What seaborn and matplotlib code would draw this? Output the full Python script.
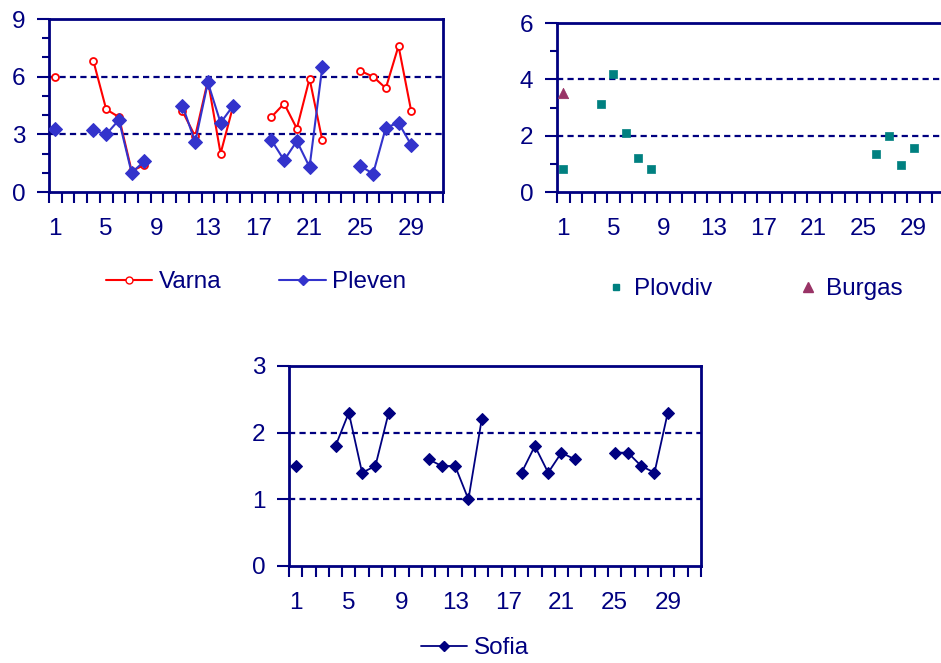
import numpy as np
import pandas as pd
import matplotlib
matplotlib.use("Agg")
import matplotlib.pyplot as plt
from matplotlib.lines import Line2D
import seaborn as sns

sns.set_style("white")
plt.rcParams['font.family'] = ['Liberation Sans', 'DejaVu Sans']

days = list(range(1, 32))
N = None
varna = [6.0, N, N, 6.8, 4.3, 3.9, 1.1, 1.4, N, N, 4.2, 2.9, 5.8, 2.0, 4.5, N, N, 3.9, 4.6, 3.3, 5.9, 2.7, N, N, 6.3, 6.0, 5.4, 7.6, 4.2, N, N]
pleven = [3.3, N, N, 3.2, 3.0, 3.75, 1.0, 1.6, N, N, 4.5, 2.6, 5.7, 3.6, 4.5, N, N, 2.7, 1.65, 2.65, 1.3, 6.5, N, N, 1.35, 0.95, 3.35, 3.6, 2.45, N, N]
plovdiv = [0.82, N, N, 3.14, 4.2, 2.1, 1.2, 0.82, N, N, N, N, N, N, N, N, N, N, N, N, N, N, N, N, N, 1.34, 1.99, 0.97, 1.57, N, N]
burgas = [3.5] + [N] * 30
sofia = [1.5, N, N, 1.8, 2.3, 1.4, 1.5, 2.3, N, N, 1.6, 1.5, 1.5, 1.0, 2.2, N, N, 1.4, 1.8, 1.4, 1.7, 1.6, N, N, 1.7, 1.7, 1.5, 1.4, 2.3, N, N]
xtick_labels = [1, 5, 9, 13, 17, 21, 25, 29]

NAVY = "#000080"
RED = "#FF0000"
BLUE = "#3333CC"
TEAL = "#008080"
MAROON = "#993366"
FS = 17.5


def seg_frame(vals):
    df = pd.DataFrame({"day": days, "val": pd.array(vals, dtype="Float64").astype(float)})
    df["seg"] = df["val"].isna().cumsum()
    return df.dropna()


fig = plt.figure(figsize=(9.41, 6.63), dpi=100)
W, H = 941, 663


def add_ax(l, r, t, b):
    return fig.add_axes([l / W, 1 - b / H, (r - l) / W, (b - t) / H])


def style(ax, ymax, major, minor, grid, right_spine=True):
    ax.set_xlim(0.5, 31.5)
    ax.set_ylim(0, ymax)
    ax.set_xticks(np.arange(0.5, 32, 1.0))
    ax.set_xticklabels([])
    ax.set_xticks(xtick_labels, minor=True)
    ax.set_xticklabels([str(v) for v in xtick_labels], minor=True)
    ax.tick_params(axis="x", which="major", direction="out", length=8, width=1.5, color=NAVY, bottom=True)
    ax.tick_params(axis="x", which="minor", length=0, pad=19, labelsize=FS, labelcolor=NAVY, bottom=True)
    ax.set_yticks(np.arange(0, ymax + 0.01, major))
    ax.set_yticklabels([str(int(v)) for v in np.arange(0, ymax + 0.01, major)])
    if minor:
        ax.set_yticks(np.arange(0, ymax + 0.01, minor), minor=True)
    ax.tick_params(axis="y", which="major", direction="out", length=9, width=1.5, color=NAVY,
                   labelsize=FS, labelcolor=NAVY, left=True, pad=8)
    ax.tick_params(axis="y", which="minor", direction="out", length=5, width=1.5, color=NAVY, left=True)
    for s in ax.spines.values():
        s.set_color(NAVY)
        s.set_linewidth(2)
        s.set_visible(True)
    if not right_spine:
        ax.spines["right"].set_visible(False)
    for g in grid:
        ax.axhline(g, color=NAVY, lw=1.6, ls=(0, (2.8, 1.9)), zorder=1)
    ax.set_xlabel("")
    ax.set_ylabel("")
    ax.grid(False)


# Top-left: Varna & Pleven
ax1 = add_ax(49, 443, 19, 192)
sns.lineplot(data=seg_frame(varna), x="day", y="val", units="seg", estimator=None, sort=False,
             color=RED, lw=1.5, marker="o", markersize=5, markerfacecolor="white",
             markeredgecolor=RED, markeredgewidth=1.3, ax=ax1, zorder=3)
sns.lineplot(data=seg_frame(pleven), x="day", y="val", units="seg", estimator=None, sort=False,
             color=BLUE, lw=1.5, marker="D", markersize=7, markerfacecolor=BLUE,
             markeredgecolor=BLUE, ax=ax1, zorder=4)
style(ax1, 9, 3, 1, [3, 6])
fig.legend(handles=[Line2D([], [], color=RED, lw=1.5, marker="o", markersize=5, markerfacecolor="white",
                           markeredgecolor=RED, label="Varna"),
                    Line2D([], [], color=BLUE, lw=1.5, marker="D", markersize=5, markerfacecolor=BLUE,
                           markeredgecolor=BLUE, label="Pleven")],
           loc="center", bbox_to_anchor=(256 / W, 1 - 282 / H), ncol=2, frameon=False,
           fontsize=FS, labelcolor=NAVY, handlelength=1.9, handletextpad=0.25, columnspacing=2.4)

# Top-right: Plovdiv & Burgas
ax2 = add_ax(557, 945, 23, 192)
dfp = pd.DataFrame({"day": days, "val": pd.array(plovdiv, dtype="Float64").astype(float)}).dropna()
dfb = pd.DataFrame({"day": days, "val": pd.array(burgas, dtype="Float64").astype(float)}).dropna()
sns.scatterplot(data=dfp, x="day", y="val", marker="s", s=40, color=TEAL, edgecolor=TEAL, ax=ax2, zorder=3)
sns.scatterplot(data=dfb, x="day", y="val", marker="^", s=55, color=MAROON, edgecolor=MAROON, ax=ax2, zorder=3)
style(ax2, 6, 2, 1, [2, 4], right_spine=False)
fig.legend(handles=[Line2D([], [], ls="none", marker="s", markersize=5, color=TEAL, label="Plovdiv"),
                    Line2D([], [], ls="none", marker="^", markersize=7, color=MAROON, label="Burgas")],
           loc="center", bbox_to_anchor=(755 / W, 1 - 289 / H), ncol=2, frameon=False,
           fontsize=FS, labelcolor=NAVY, handlelength=0.7, handletextpad=0.4, columnspacing=3.6)

# Bottom: Sofia
ax3 = add_ax(289, 701, 366, 566)
sns.lineplot(data=seg_frame(sofia), x="day", y="val", units="seg", estimator=None, sort=False,
             color=NAVY, lw=1.3, marker="D", markersize=6.5, markerfacecolor=NAVY,
             markeredgecolor=NAVY, ax=ax3, zorder=3)
style(ax3, 3, 1, None, [1, 2])
fig.legend(handles=[Line2D([], [], color=NAVY, lw=1.3, marker="D", markersize=5, markerfacecolor=NAVY,
                           markeredgecolor=NAVY, label="Sofia")],
           loc="center", bbox_to_anchor=(475 / W, 1 - 648 / H), frameon=False,
           fontsize=FS, labelcolor=NAVY, handlelength=1.9, handletextpad=0.3)

fig.savefig("out.png", dpi=100)
